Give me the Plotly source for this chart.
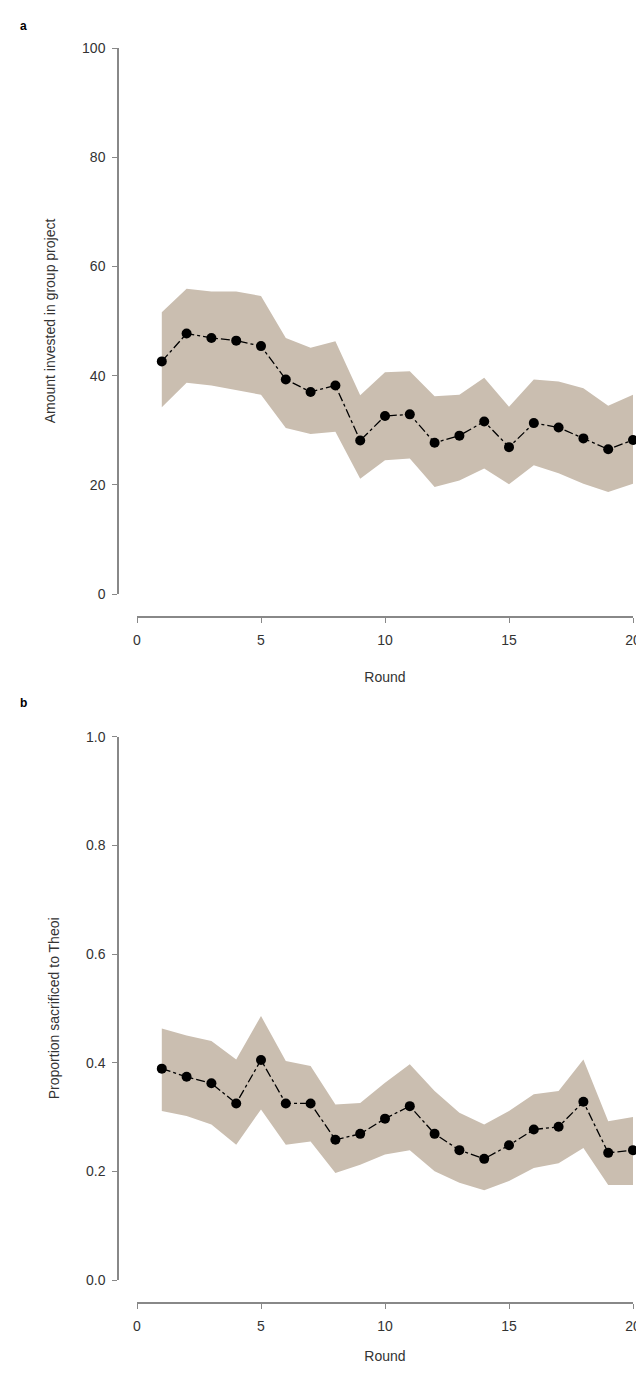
import plotly.graph_objs as go

rounds = list(range(1, 21))

# panel a: amount invested in group project
invest_mean = [42.6, 47.7, 46.9, 46.4, 45.4, 39.3, 37.0, 38.2, 28.1, 32.6,
               32.9, 27.7, 29.0, 31.6, 26.9, 31.3, 30.5, 28.5, 26.5, 28.2]
invest_upper = [51.6, 55.9, 55.4, 55.4, 54.6, 46.9, 45.1, 46.3, 36.4, 40.6,
                40.8, 36.2, 36.5, 39.6, 34.3, 39.3, 38.9, 37.7, 34.5, 36.5]
invest_lower = [34.2, 38.7, 38.2, 37.4, 36.5, 30.4, 29.3, 29.7, 21.1, 24.5,
                24.8, 19.6, 20.8, 23.0, 20.1, 23.6, 22.1, 20.2, 18.7, 20.2]

# panel b: proportion sacrificed to Theoi
sacr_mean = [0.389, 0.374, 0.362, 0.325, 0.405, 0.325, 0.325, 0.258, 0.269, 0.297,
             0.320, 0.269, 0.239, 0.223, 0.248, 0.277, 0.282, 0.328, 0.234, 0.239]
sacr_upper = [0.463, 0.450, 0.440, 0.406, 0.486, 0.403, 0.394, 0.323, 0.326, 0.363,
              0.397, 0.348, 0.308, 0.286, 0.311, 0.342, 0.348, 0.406, 0.292, 0.300]
sacr_lower = [0.311, 0.302, 0.286, 0.249, 0.314, 0.249, 0.255, 0.197, 0.212, 0.231,
              0.239, 0.200, 0.179, 0.165, 0.182, 0.206, 0.215, 0.243, 0.175, 0.175]

x_ticks = [0, 5, 10, 15, 20]
invest_ticks = [0, 20, 40, 60, 80, 100]
sacr_ticks = [0.0, 0.2, 0.4, 0.6, 0.8, 1.0]
sacr_ticktext = ["0.0", "0.2", "0.4", "0.6", "0.8", "1.0"]

# the page body has an 8px margin; keep the figure inside the window
OFF = 8
W, H = 644 - OFF, 1378 - 2 * OFF - 6
BAND = "#cabeb0"
AXIS = "#888888"
TEXT = "#333333"
FONT = "Liberation Sans, Arial, sans-serif"


def fy(px):
    return 1 - (px - OFF) / H


def fx(px):
    return (px - OFF) / W


fig = go.Figure()


def add_panel(upper, lower, mean, xa, ya):
    fig.add_trace(go.Scatter(x=rounds, y=lower, mode="lines", line=dict(width=0),
                             hoverinfo="skip", showlegend=False, xaxis=xa, yaxis=ya))
    fig.add_trace(go.Scatter(x=rounds, y=upper, mode="lines", line=dict(width=0),
                             fill="tonexty", fillcolor=BAND, hoverinfo="skip",
                             showlegend=False, xaxis=xa, yaxis=ya))
    fig.add_trace(go.Scatter(x=rounds, y=mean, mode="lines+markers",
                             line=dict(color="black", width=1.3, dash="dashdot"),
                             marker=dict(color="black", size=10),
                             cliponaxis=False, showlegend=False, xaxis=xa, yaxis=ya))


add_panel(invest_upper, invest_lower, invest_mean, "x", "y")
add_panel(sacr_upper, sacr_lower, sacr_mean, "x2", "y2")

axis_common = dict(
    showgrid=False, zeroline=False, showline=True, linecolor=AXIS, linewidth=1.5,
    ticks="outside", ticklen=5, tickwidth=1.2, tickcolor=AXIS,
    tickfont=dict(family=FONT, size=14, color=TEXT),
    automargin=False, ticklabeloverflow="allow",
)
x_title = dict(text="Round", font=dict(size=14, color=TEXT), standoff=25)

fig.update_layout(
    width=W, height=H,
    margin=dict(l=0, r=0, t=0, b=0),
    paper_bgcolor="white", plot_bgcolor="white",
    font=dict(family=FONT, color=TEXT),
    xaxis=dict(domain=[fx(137), fx(633)], range=[0, 20], tickvals=x_ticks,
               anchor="free", position=fy(617), ticklabelstandoff=5,
               title=x_title, **axis_common),
    yaxis=dict(domain=[fy(594), fy(48)], range=[0, 100], tickvals=invest_ticks,
               anchor="free", position=fx(118), ticklabelstandoff=4,
               title=dict(text="Amount invested in group project",
                          font=dict(size=14, color=TEXT), standoff=22),
               **axis_common),
    xaxis2=dict(domain=[fx(137), fx(633)], range=[0, 20], tickvals=x_ticks,
                anchor="free", position=fy(1303), ticklabelstandoff=5,
                title=x_title, **axis_common),
    yaxis2=dict(domain=[fy(1280), fy(736.7)], range=[0, 1], tickvals=sacr_ticks,
                ticktext=sacr_ticktext, anchor="free", position=fx(118),
                ticklabelstandoff=4,
                title=dict(text="Proportion sacrificed to Theoi",
                           font=dict(size=14, color=TEXT), standoff=22),
                **axis_common),
    annotations=[
        dict(text="<b>a</b>", x=fx(18), y=fy(17), xref="paper", yref="paper",
             showarrow=False, font=dict(family=FONT, size=12, color="black")),
        dict(text="<b>b</b>", x=fx(18), y=fy(703), xref="paper", yref="paper",
             showarrow=False, font=dict(family=FONT, size=12, color="black")),
    ],
)

fig.write_html("out.html")
